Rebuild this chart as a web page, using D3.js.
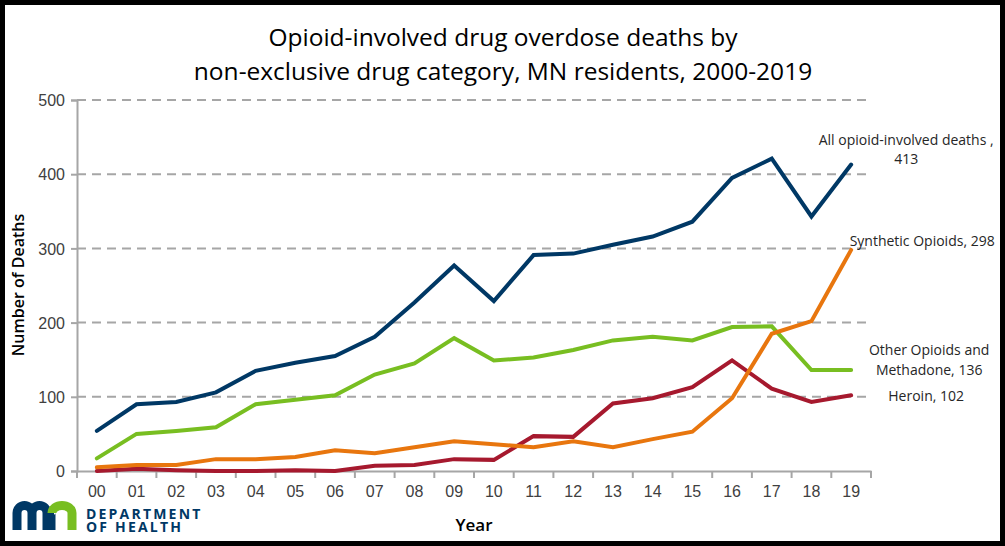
<!DOCTYPE html>
<html lang="en">
<head>
  <meta charset="UTF-8">
  <title>Opioid-involved drug overdose deaths</title>
  <script src="https://d3js.org/d3.v7.min.js"></script>
  <style>
    body { margin: 0; background: #fff; }
    svg { display: block; font-family: "Open Sans", "Noto Sans", sans-serif; }
    .tick-label { font-size: 16px; fill: #404040; }
    .end-label { font-size: 14px; fill: #262626; }
  </style>
</head>
<body>
  <script>
    // data
    const years = ["00","01","02","03","04","05","06","07","08","09",
                   "10","11","12","13","14","15","16","17","18","19"];
    const allOpioid = [54, 90, 93, 106, 135, 146, 155, 181, 227, 277, 229, 291, 293, 305, 316, 336, 395, 421, 343, 413];
    const otherOpioids = [17, 50, 54, 59, 90, 96, 102, 130, 145, 179, 149, 153, 163, 176, 181, 176, 194, 195, 136, 136];
    const synthetic = [5, 8, 8, 16, 16, 19, 28, 24, 32, 40, 36, 32, 40, 32, 43, 53, 98, 185, 202, 298];
    const heroin = [0, 3, 1, 0, 0, 1, 0, 7, 8, 16, 15, 47, 46, 91, 98, 113, 149, 111, 93, 102];
    const yTicks = [0, 100, 200, 300, 400, 500];

    const series = [
      { name: "All opioid", values: allOpioid, color: "#003865", label: ["All opioid-involved deaths ,", "413"], dx: 55, dy: [-20, -1] },
      { name: "Synthetic", values: synthetic, color: "#E8760E", label: ["Synthetic Opioids, 298"], dx: 71, dy: [-4] },
      { name: "Other", values: otherOpioids, color: "#78BE21", label: ["Other Opioids and", "Methadone, 136"], dx: 78, dy: [-15, 5] },
      { name: "Heroin", values: heroin, color: "#A6192E", label: ["Heroin, 102"], dx: 75, dy: [6] }
    ];

    const W = 1005, H = 546;
    const svg = d3.select("body").append("svg").attr("width", W).attr("height", H);

    // frame
    svg.append("rect").attr("x", 0).attr("y", 0).attr("width", W).attr("height", H)
       .attr("fill", "#fff").attr("stroke", "#000").attr("stroke-width", 10);

    const x = d3.scaleBand().domain(years).range([77, 871]).padding(0);
    const y = d3.scaleLinear().domain([0, 500]).range([471, 100]);
    const cx = d => x(d) + x.bandwidth() / 2;

    // title
    svg.append("text").attr("x", 503).attr("y", 46).attr("text-anchor", "middle")
       .style("font-size", "24.5px").attr("fill", "#000")
       .text("Opioid-involved drug overdose deaths by");
    svg.append("text").attr("x", 503).attr("y", 80).attr("text-anchor", "middle")
       .style("font-size", "24.5px").attr("fill", "#000")
       .text("non-exclusive drug category, MN residents, 2000-2019");

    // gridlines
    svg.append("g").selectAll("line")
       .data(yTicks.filter(d => d > 0))
       .join("line")
       .attr("x1", 77).attr("x2", 871)
       .attr("y1", d => y(d)).attr("y2", d => y(d))
       .attr("stroke", "#A6A6A6").attr("stroke-width", 2)
       .attr("stroke-dasharray", "9,6");

    // y axis
    const yAxis = svg.append("g").attr("transform", "translate(77,0)")
       .call(d3.axisLeft(y).tickValues(yTicks).tickSize(6).tickPadding(6));
    yAxis.select(".domain").attr("stroke", "#A6A6A6").attr("stroke-width", 2);
    yAxis.selectAll(".tick line").attr("stroke", "#A6A6A6").attr("stroke-width", 2);
    yAxis.selectAll(".tick text").attr("class", "tick-label").attr("dy", "0.35em");

    // x axis: labels at centres, ticks between categories
    const xAxis = svg.append("g").attr("transform", "translate(0,471)")
       .call(d3.axisBottom(x).tickSize(0).tickPadding(15));
    xAxis.select(".domain").attr("stroke", "#A6A6A6").attr("stroke-width", 2);
    xAxis.selectAll(".tick text").attr("class", "tick-label");
    xAxis.append("g").selectAll("line")
       .data(years.map(d => x(d)).concat([x.range()[1]]))
       .join("line")
       .attr("x1", d => d).attr("x2", d => d)
       .attr("y1", 0).attr("y2", 7)
       .attr("stroke", "#A6A6A6").attr("stroke-width", 2);

    // axis titles
    svg.append("text").attr("x", 474).attr("y", 531).attr("text-anchor", "middle")
       .style("font-size", "17px").style("font-weight", 600).attr("fill", "#000")
       .text("Year");
    svg.append("text").attr("transform", "translate(24,285) rotate(-90)")
       .attr("text-anchor", "middle")
       .style("font-size", "16px").style("font-weight", 600).attr("fill", "#000")
       .text("Number of Deaths");

    // lines
    const line = d3.line().x((d, i) => cx(years[i])).y(d => y(d));
    svg.append("g").selectAll("path")
       .data(series.slice().reverse())
       .join("path")
       .attr("d", d => line(d.values))
       .attr("fill", "none")
       .attr("stroke", d => d.color)
       .attr("stroke-width", 4)
       .attr("stroke-linejoin", "miter")
       .attr("stroke-linecap", "round");

    // end labels
    const last = years[years.length - 1];
    series.forEach(s => {
      const v = s.values[s.values.length - 1];
      s.label.forEach((t, i) => {
        svg.append("text").attr("class", "end-label")
           .attr("x", cx(last) + s.dx)
           .attr("y", y(v) + s.dy[i])
           .attr("text-anchor", "middle")
           .text(t);
      });
    });

    // logo
    const logo = svg.append("g");
    logo.append("path")
       .attr("d", "M17,530 V513 a7.5,7.5 0 0 1 15,0 V530 M32,513 a7.5,7.5 0 0 1 15,0 V530 M51,530 V513 a3,3 0 0 1 3,-3")
       .attr("fill", "none").attr("stroke", "#003865").attr("stroke-width", 9);
    logo.append("path")
       .attr("d", "M52,513 a10,7.5 0 0 1 20,0 V530")
       .attr("fill", "none").attr("stroke", "#78BE21").attr("stroke-width", 9);
    const logoText = logo.append("text")
       .style("font-size", "14px").style("font-weight", 700).style("letter-spacing", "2.2px")
       .attr("fill", "#003865");
    logoText.append("tspan").attr("x", 86).attr("y", 519).text("DEPARTMENT");
    logoText.append("tspan").attr("x", 86).attr("y", 532).text("OF HEALTH");
  </script>
</body>
</html>
